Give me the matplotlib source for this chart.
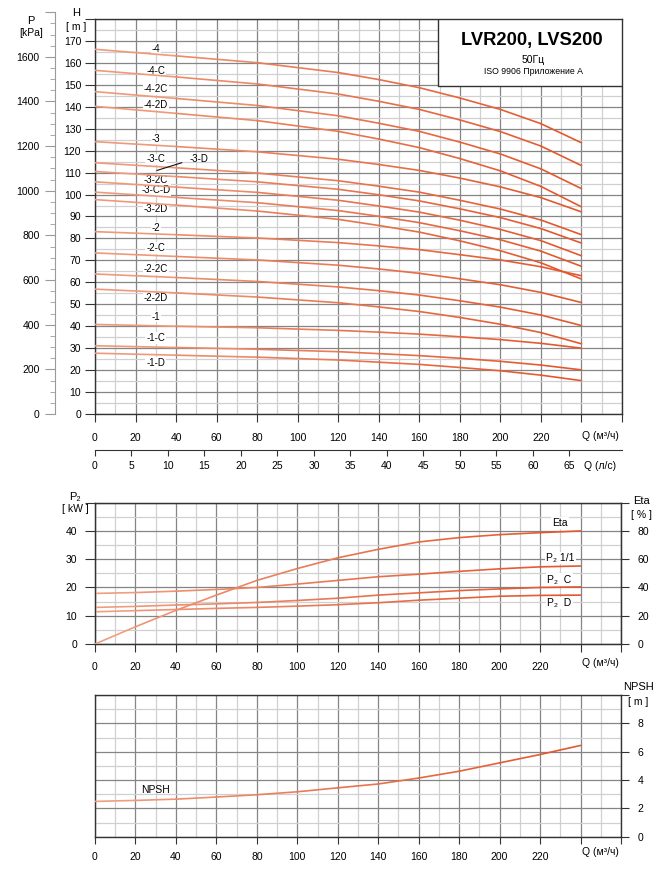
import matplotlib
matplotlib.use('Agg')
import matplotlib.pyplot as plt
from matplotlib.patches import Rectangle
from matplotlib.ticker import MultipleLocator
from matplotlib.collections import LineCollection
from matplotlib.colors import to_rgb
import numpy as np

plt.rcParams['font.family'] = ['Liberation Sans', 'DejaVu Sans']

# ---------------- data ----------------
q_h = [0, 40, 80, 120, 140, 160, 180, 200, 220, 240]

h_4 = [166.2, 163.2, 160.1, 155.6, 152.4, 148.7, 144.0, 138.8, 132.3, 123.6]
h_4c = [156.6, 153.6, 150.4, 145.8, 142.5, 138.8, 134.0, 128.7, 122.1, 113.2]
h_42c = [146.9, 143.8, 140.6, 135.9, 132.5, 128.8, 123.9, 118.5, 111.7, 102.7]
h_42d = [140.2, 137.0, 133.7, 128.8, 125.3, 121.4, 116.4, 110.8, 103.7, 94.4]
h_3 = [124.1, 121.9, 119.5, 116.1, 113.7, 111.0, 107.5, 103.5, 98.6, 92.1]
h_3c = [114.5, 112.2, 109.8, 106.3, 103.8, 101.1, 97.4, 93.4, 88.4, 81.7]
h_3d = [110.5, 108.2, 105.8, 102.4, 99.9, 97.1, 93.5, 89.5, 84.5, 77.9]
h_32c = [105.8, 103.4, 101.0, 97.4, 94.8, 92.0, 88.3, 84.1, 79.0, 72.1]
h_3cd = [101.1, 98.7, 96.3, 92.7, 90.1, 87.2, 83.5, 79.4, 74.2, 67.3]
h_32d = [97.7, 95.2, 92.5, 88.7, 85.9, 82.9, 78.9, 74.4, 68.9, 61.5]
h_2 = [83.1, 81.7, 80.2, 78.1, 76.6, 74.9, 72.6, 70.2, 67.1, 63.0]
h_2c = [73.4, 71.8, 70.2, 67.8, 66.1, 64.1, 61.6, 58.9, 55.4, 50.8]
h_22c = [63.8, 62.2, 60.4, 57.9, 56.2, 54.2, 51.6, 48.7, 45.1, 40.3]
h_22d = [56.9, 55.2, 53.3, 50.7, 48.8, 46.7, 44.0, 40.9, 37.1, 32.0]
h_1 = [40.8, 40.0, 39.3, 38.1, 37.3, 36.4, 35.2, 33.9, 32.2, 30.0]
h_1c = [31.1, 30.3, 29.5, 28.4, 27.5, 26.6, 25.4, 24.0, 22.3, 20.1]
h_1d = [27.7, 26.8, 25.9, 24.6, 23.6, 22.6, 21.2, 19.7, 17.7, 15.2]

head_curves = [h_4, h_4c, h_42c, h_42d, h_3, h_3c, h_3d, h_32c, h_3cd, h_32d,
               h_2, h_2c, h_22c, h_22d, h_1, h_1c, h_1d]

curve_labels = ['-4', '-4-C', '-4-2C', '-4-2D', '-3', '-3-C', '-3-2C', '-3-C-D',
                '-3-2D', '-2', '-2-C', '-2-2C', '-2-2D', '-1', '-1-C', '-1-D']
label_h = [166.5, 156.3, 148.0, 141.0, 125.4, 116.0, 106.8, 102.0, 93.5,
           84.8, 75.6, 66.1, 52.7, 44.4, 34.7, 23.1]

q_p = [0, 20, 40, 60, 80, 100, 120, 140, 160, 180, 200, 220, 240]
eta = [0, 12.2, 23.8, 34.6, 45.0, 53.4, 61.0, 67.0, 72.2, 75.3, 77.4, 78.8, 80.0]
p2_11 = [17.9, 18.2, 18.7, 19.3, 20.0, 21.2, 22.5, 23.8, 24.7, 25.7, 26.6, 27.3, 27.6]
p2_c = [12.95, 13.3, 13.8, 14.2, 14.7, 15.4, 16.2, 17.3, 18.1, 18.9, 19.5, 20.0, 20.2]
p2_d = [11.4, 11.8, 12.2, 12.6, 12.95, 13.4, 13.9, 14.6, 15.5, 16.2, 16.9, 17.2, 17.3]
npsh = [2.49, 2.56, 2.65, 2.80, 2.96, 3.17, 3.45, 3.72, 4.14, 4.62, 5.21, 5.80, 6.44]

q_ticks = list(range(0, 261, 20))
q_ls_ticks = list(range(0, 66, 5))

# ---------------- style ----------------
W, H = 664, 875
C_LIGHT = np.array(to_rgb('#F2A487'))
C_DARK = np.array(to_rgb('#E2552B'))
MAJ = '#858585'
MIN = '#d0d0d0'
SP = '#333333'
FS = 7.5

fig = plt.figure(figsize=(W / 100, H / 100), dpi=100)


def frac_box(x0, y0, x1, y1):
    return [x0 / W, 1 - y1 / H, (x1 - x0) / W, (y1 - y0) / H]


def curve(ax, xs, ys, lw=1.2):
    pts = np.column_stack([xs, ys])
    segs = np.stack([pts[:-1], pts[1:]], axis=1)
    mids = (np.asarray(xs[:-1], float) + np.asarray(xs[1:], float)) / 2 / 240.0
    t = np.clip(mids, 0, 1) ** 0.8
    cols = [tuple(C_LIGHT * (1 - v) + C_DARK * v) for v in t]
    lc = LineCollection(segs, colors=cols, linewidths=lw, zorder=3,
                        capstyle='round', joinstyle='round')
    ax.add_collection(lc)


def style_grid(ax, ymaj, ymin):
    ax.set_xlim(0, 260)
    ax.xaxis.set_major_locator(plt.FixedLocator(q_ticks))
    ax.xaxis.set_minor_locator(MultipleLocator(10))
    ax.yaxis.set_major_locator(MultipleLocator(ymaj))
    ax.yaxis.set_minor_locator(MultipleLocator(ymin))
    ax.grid(which='major', color=MAJ, lw=0.9, zorder=0)
    ax.grid(which='minor', color=MIN, lw=0.9, zorder=0)
    ax.set_axisbelow(True)
    for s in ax.spines.values():
        s.set_color(SP)
        s.set_linewidth(1.0)
    ax.tick_params(which='minor', length=0)
    ax.tick_params(axis='x', which='major', length=6, color=SP, labelsize=FS)
    ax.set_xticklabels([str(q) if q <= 220 else '' for q in q_ticks])


# ---------------- top chart ----------------
ax = fig.add_axes(frac_box(95, 19, 622, 414))
style_grid(ax, 10, 5)
ax.set_ylim(0, 180)
ax.set_yticks(range(0, 181, 10))
ax.set_yticklabels([str(v) if v <= 170 else '' for v in range(0, 181, 10)])
ax.tick_params(axis='y', which='major', length=7, color=SP, labelsize=FS, pad=3)
ax.tick_params(axis='x', which='major', pad=8)

for hv in head_curves:
    curve(ax, q_h, hv)

for lab, hy in zip(curve_labels, label_h):
    ax.text(30, hy, lab, ha='center', va='center', fontsize=7, zorder=2,
            bbox=dict(facecolor='white', edgecolor='none', pad=0.6))
ax.plot([30.6, 42.8], [111.0, 114.5], color='#111111', lw=0.8, zorder=4)
ax.text(51.5, 116.0, '-3-D', ha='center', va='center', fontsize=7, zorder=4)

ax.add_patch(Rectangle((0.6509, 0.8304), 0.3491, 0.1696, transform=ax.transAxes,
                       facecolor='white', edgecolor=SP, lw=1.0, zorder=5))
fig.text(531.7 / W, 1 - 40 / H, 'LVR200, LVS200', ha='center', va='center',
         fontsize=13.2, fontweight='bold', zorder=6)
fig.text(533 / W, 1 - 60 / H, '50Гц', ha='center', va='center', fontsize=7.5, zorder=6)
fig.text(533 / W, 1 - 72 / H, 'ISO 9906 Приложение А', ha='center', va='center',
         fontsize=6.3, zorder=6)

fig.text(76 / W, 1 - 13.3 / H, 'H', ha='center', va='center', fontsize=8)
fig.text(76 / W, 1 - 27.3 / H, '[ m ]', ha='center', va='center', fontsize=FS)
fig.text(30.7 / W, 1 - 20.7 / H, 'P', ha='center', va='center', fontsize=8)
fig.text(30.7 / W, 1 - 33.3 / H, '[kPa]', ha='center', va='center', fontsize=FS)
fig.text(600 / W, 1 - 436 / H, 'Q (м³/ч)', ha='center', va='center', fontsize=FS)

# pressure axis
axp = fig.add_axes(frac_box(55, 12.2, 56, 414))
axp.set_ylim(0, 1800)
axp.patch.set_visible(False)
for k in ['top', 'right', 'bottom']:
    axp.spines[k].set_visible(False)
axp.spines['left'].set_color('#9a9a9a')
axp.set_xticks([])
axp.yaxis.set_major_locator(MultipleLocator(200))
axp.yaxis.set_minor_locator(MultipleLocator(50))
axp.set_yticks(range(0, 1801, 200))
axp.set_yticklabels([str(v) if v <= 1600 else '' for v in range(0, 1801, 200)])
axp.tick_params(axis='y', which='major', length=7, color='#9a9a9a', labelsize=FS, pad=4)
axp.tick_params(axis='y', which='minor', length=3.5, color='#9a9a9a')

# l/s axis
axl = fig.add_axes(frac_box(95, 449, 622, 450))
axl.set_xlim(0, 260 / 3.6)
axl.patch.set_visible(False)
for k in ['top', 'right', 'left']:
    axl.spines[k].set_visible(False)
axl.spines['bottom'].set_color(SP)
axl.set_yticks([])
axl.set_xticks(q_ls_ticks)
axl.tick_params(axis='x', length=4, color=SP, labelsize=FS, pad=4)
fig.text(600 / W, 1 - 466 / H, 'Q (л/с)', ha='center', va='center', fontsize=FS)

# ---------------- middle chart ----------------
ax2 = fig.add_axes(frac_box(95, 502.7, 621, 644))
style_grid(ax2, 10, 5)
ax2.set_ylim(0, 50)
ax2.set_yticks(range(0, 51, 10))
ax2.set_yticklabels([str(v) if v <= 40 else '' for v in range(0, 51, 10)])
ax2.tick_params(axis='y', which='major', length=7, color=SP, labelsize=FS, pad=6)
ax2.tick_params(axis='x', which='major', pad=7)
curve(ax2, q_p, p2_11)
curve(ax2, q_p, p2_c)
curve(ax2, q_p, p2_d)

ax2r = ax2.twinx()
ax2r.set_ylim(0, 100)
ax2r.set_yticks(range(0, 101, 20))
ax2r.set_yticklabels([str(v) if v <= 80 else '' for v in range(0, 101, 20)])
ax2r.tick_params(axis='y', length=6, color=SP, labelsize=FS, pad=6)
for s in ax2r.spines.values():
    s.set_color(SP)
curve(ax2r, q_p, eta)

bb = dict(facecolor='white', edgecolor='none', pad=0.8)
ax2.text(230, 42.8, 'Eta', ha='center', va='center', fontsize=FS, bbox=bb, zorder=2)
ax2.text(230, 30.5, 'P₂ 1/1', ha='center', va='center', fontsize=FS, bbox=bb, zorder=2)
ax2.text(229.6, 22.8, 'P₂  C', ha='center', va='center', fontsize=FS, bbox=bb, zorder=2)
ax2.text(229.6, 14.6, 'P₂  D', ha='center', va='center', fontsize=FS, bbox=bb, zorder=2)

fig.text(75 / W, 1 - 496.7 / H, 'P₂', ha='center', va='center', fontsize=8)
fig.text(75 / W, 1 - 509.3 / H, '[ kW ]', ha='center', va='center', fontsize=FS)
fig.text(641.7 / W, 1 - 500.7 / H, 'Eta', ha='center', va='center', fontsize=8)
fig.text(641.7 / W, 1 - 515 / H, '[ % ]', ha='center', va='center', fontsize=FS)
fig.text(600 / W, 1 - 663 / H, 'Q (м³/ч)', ha='center', va='center', fontsize=FS)

# ---------------- bottom chart ----------------
ax3 = fig.add_axes(frac_box(95, 695, 621, 836.7))
style_grid(ax3, 2, 1)
ax3.set_ylim(0, 10)
ax3.yaxis.set_ticks_position('right')
ax3.set_yticks(range(0, 11, 2))
ax3.set_yticklabels([str(v) if v <= 8 else '' for v in range(0, 11, 2)])
ax3.tick_params(axis='y', which='major', length=6, color=SP, labelsize=FS, pad=6)
ax3.tick_params(axis='x', which='major', length=5, pad=6)
curve(ax3, q_p, npsh)
ax3.text(30, 3.27, 'NPSH', ha='center', va='center', fontsize=FS, zorder=2)

fig.text(638.3 / W, 1 - 687.3 / H, 'NPSH', ha='center', va='center', fontsize=8)
fig.text(638.3 / W, 1 - 701.7 / H, '[ m ]', ha='center', va='center', fontsize=FS)
fig.text(600 / W, 1 - 852 / H, 'Q (м³/ч)', ha='center', va='center', fontsize=FS)

fig.savefig('out.png', dpi=100, facecolor='white')
